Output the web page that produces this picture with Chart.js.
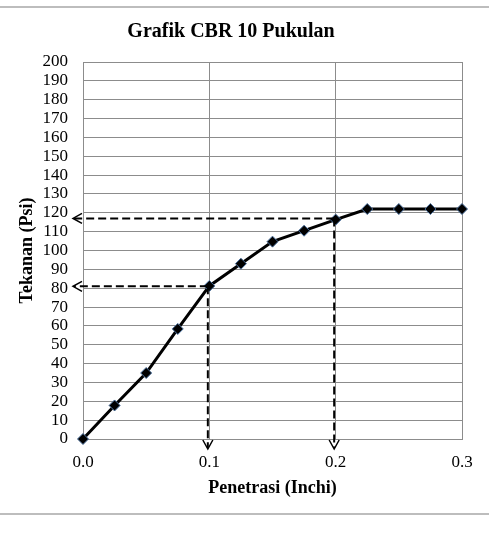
<!DOCTYPE html>
<html>
<head>
<meta charset="utf-8">
<script src="https://cdn.jsdelivr.net/npm/chart.js@4"></script>
<style>
  html, body { margin: 0; padding: 0; background: #fff; }
  #wrap { position: relative; width: 489px; height: 538px; }
  .rule { position: absolute; left: 0; width: 489px; height: 2px; background: #bdbdbd; }
</style>
</head>
<body>
<div id="wrap">
  <div class="rule" style="top:6px"></div>
  <div class="rule" style="top:513px"></div>
  <canvas id="cbr" width="489" height="538"></canvas>
</div>
<script>
"use strict";

// data
const penetrasi = [0, 0.025, 0.05, 0.075, 0.1, 0.125, 0.15, 0.175, 0.2, 0.225, 0.25, 0.275, 0.3];
const tekanan = [0, 17.8, 35, 58.4, 81.2, 93, 104.7, 110.5, 116.4, 122, 122, 122, 122];

// garis bantu (putus-putus) pada 0.1 dan 0.2 inchi
const bantuX = [0.1, 0.2];
const bantuY = [81, 117];

const xTicks = [0, 0.1, 0.2, 0.3];

const serif = "'Liberation Serif', 'Times New Roman', serif";

/* garis putus-putus + panah */
const guidePlugin = {
  id: "guides",
  afterDatasetsDraw(chart) {
    const { ctx, scales: { x, y } } = chart;
    const x0 = x.getPixelForValue(0);
    const y0 = y.getPixelForValue(0);
    ctx.save();
    ctx.strokeStyle = "#000";
    ctx.lineWidth = 2;
    bantuX.forEach((bx, i) => {
      const px = x.getPixelForValue(bx) - 1.5;
      const py = y.getPixelForValue(bantuY[i]);
      ctx.setLineDash([8, 4]);
      // horizontal ke sumbu y
      ctx.beginPath();
      ctx.moveTo(px, py);
      ctx.lineTo(x0 - 9, py);
      ctx.stroke();
      // vertikal ke sumbu x
      ctx.beginPath();
      ctx.moveTo(px, py);
      ctx.lineTo(px, y0 + 9);
      ctx.stroke();
      // panah
      ctx.setLineDash([]);
      ctx.lineWidth = 1.5;
      ctx.beginPath();
      ctx.moveTo(x0 - 1, py - 5);
      ctx.lineTo(x0 - 10, py);
      ctx.lineTo(x0 - 1, py + 5);
      ctx.stroke();
      ctx.beginPath();
      ctx.moveTo(px - 5, y0 + 1);
      ctx.lineTo(px, y0 + 10);
      ctx.lineTo(px + 5, y0 + 1);
      ctx.stroke();
      ctx.lineWidth = 2;
    });
    ctx.restore();
  }
};

const config = {
  type: "scatter",
  data: {
    datasets: [
      {
        data: penetrasi.map((p, i) => ({ x: p, y: tekanan[i] })),
        showLine: true,
        borderColor: "#000",
        borderWidth: 3,
        pointStyle: "rectRot",
        pointRadius: 5.5,
        pointBackgroundColor: "#000",
        pointBorderColor: "#4a6f9c",
        pointBorderWidth: 1,
        clip: false
      }
    ]
  },
  options: {
    responsive: false,
    animation: false,
    layout: { padding: { left: 0, right: 27, top: 0, bottom: 0 } },
    plugins: {
      legend: { display: false },
      tooltip: { enabled: false },
      title: {
        display: true,
        text: "Grafik CBR 10 Pukulan",
        color: "#000",
        font: { family: serif, size: 20, weight: "bold" },
        padding: { top: 20, bottom: 18 }
      }
    },
    scales: {
      x: {
        type: "linear",
        min: 0,
        max: 0.3,
        afterBuildTicks: (s) => { s.ticks = xTicks.map((v) => ({ value: v })); },
        afterFit: (s) => { s.height = 99; },
        ticks: {
          color: "#000",
          font: { family: serif, size: 17 },
          padding: 13,
          callback: (v) => v.toFixed(1)
        },
        grid: { color: "#8c8c8c", tickLength: 0 },
        border: { color: "#8c8c8c" },
        title: {
          display: true,
          text: "Penetrasi (Inchi)",
          color: "#000",
          font: { family: serif, size: 18, weight: "bold" },
          padding: { bottom: 39 }
        }
      },
      y: {
        min: 0,
        max: 200,
        afterFit: (s) => { s.width = 83; },
        ticks: {
          stepSize: 10,
          autoSkip: false,
          color: "#000",
          font: { family: serif, size: 17 },
          padding: 15
        },
        grid: { color: "#8c8c8c", tickLength: 0 },
        border: { color: "#8c8c8c" },
        title: {
          display: true,
          text: "Tekanan (Psi)",
          color: "#000",
          font: { family: serif, size: 18, weight: "bold" },
          padding: { top: 17 }
        }
      }
    }
  },
  plugins: [guidePlugin]
};

new Chart(document.getElementById("cbr"), config);
</script>
</body>
</html>
